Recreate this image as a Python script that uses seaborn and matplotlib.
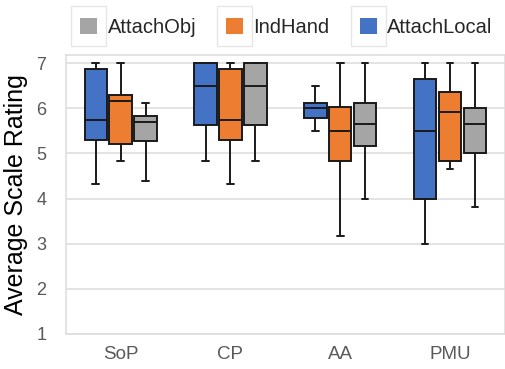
import numpy as np
import pandas as pd
import seaborn as sns
import matplotlib.pyplot as plt

# five-number summaries: [min, q1, median, q3, max]
categories = ["SoP", "CP", "AA", "PMU"]
groups = ["AttachLocal", "IndHand", "AttachObj"]
legend_order = ["AttachObj", "IndHand", "AttachLocal"]

attach_local = [
    [4.32, 5.29, 5.74, 6.87, 7.0],
    [4.83, 5.62, 6.50, 7.0, 7.0],
    [5.50, 5.78, 6.00, 6.12, 6.5],
    [3.00, 4.00, 5.50, 6.65, 7.0],
]
ind_hand = [
    [4.83, 5.21, 6.16, 6.29, 7.0],
    [4.32, 5.29, 5.74, 6.87, 7.0],
    [3.16, 4.83, 5.50, 6.03, 7.0],
    [4.66, 4.83, 5.91, 6.37, 7.0],
]
attach_obj = [
    [4.38, 5.27, 5.69, 5.83, 6.11],
    [4.83, 5.62, 6.50, 7.0, 7.0],
    [4.00, 5.16, 5.66, 6.12, 7.0],
    [3.82, 5.00, 5.66, 6.00, 7.0],
]

colors = {"AttachLocal": "#4472C4", "IndHand": "#ED7D31", "AttachObj": "#A5A5A5"}

rows = []
for grp, vals in zip(groups, [attach_local, ind_hand, attach_obj]):
    for cat, v in zip(categories, vals):
        for x in v:
            rows.append({"cat": cat, "group": grp, "rating": x})
df = pd.DataFrame(rows)

sns.set_style("white")
plt.rcParams["font.family"] = ["Liberation Sans", "DejaVu Sans"]

fig = plt.figure(figsize=(5.06, 3.69), dpi=100)
ax = fig.add_axes([0.130, 0.095, 0.868, 0.756])

sns.boxplot(data=df, x="cat", y="rating", hue="group", order=categories,
            hue_order=groups, palette=colors, whis=(0, 100), width=0.68,
            gap=0.1, linewidth=1.4, linecolor="#1a1a1a", saturation=1,
            showfliers=False, legend=False, capwidths=0.06, ax=ax)

ax.set_xlim(-0.5, 3.5)
ax.set_ylim(1, 7.18)
ax.set_yticks(range(1, 8))
ax.yaxis.grid(True, color="#DEDEDE", linewidth=1.2)
ax.set_axisbelow(True)
for s in ax.spines.values():
    s.set_color("#DEDEDE")
    s.set_linewidth(1.2)
ax.tick_params(axis="both", length=0, colors="#595959")
ax.tick_params(axis="y", pad=14, labelsize=13)
ax.tick_params(axis="x", pad=9, labelsize=13.5)
ax.set_xlabel("")
ax.set_ylabel("Average Scale Rating", fontsize=18, color="black", labelpad=6)

handles = [plt.Rectangle((0, 0), 1, 1, facecolor=colors[g], edgecolor="none")
           for g in legend_order]
leg = fig.legend(handles, legend_order, loc="center", ncol=3,
                 bbox_to_anchor=(0.566, 0.925), frameon=False, fontsize=14.5,
                 handlelength=0.85, handleheight=0.85, columnspacing=1.5,
                 handletextpad=0.5)

# faint boxes around each legend swatch
fig.canvas.draw()
for p in leg.get_patches():
    bb = p.get_window_extent().transformed(fig.transFigure.inverted())
    padx, pady = 9 / 506, 12 / 369
    fig.patches.append(plt.Rectangle((bb.x0 - padx, bb.y0 - pady),
                                     bb.width + 2 * padx, bb.height + 2 * pady,
                                     transform=fig.transFigure, fill=False,
                                     edgecolor="#E6E6E6", linewidth=1.0))

fig.savefig("out.png", dpi=100)
